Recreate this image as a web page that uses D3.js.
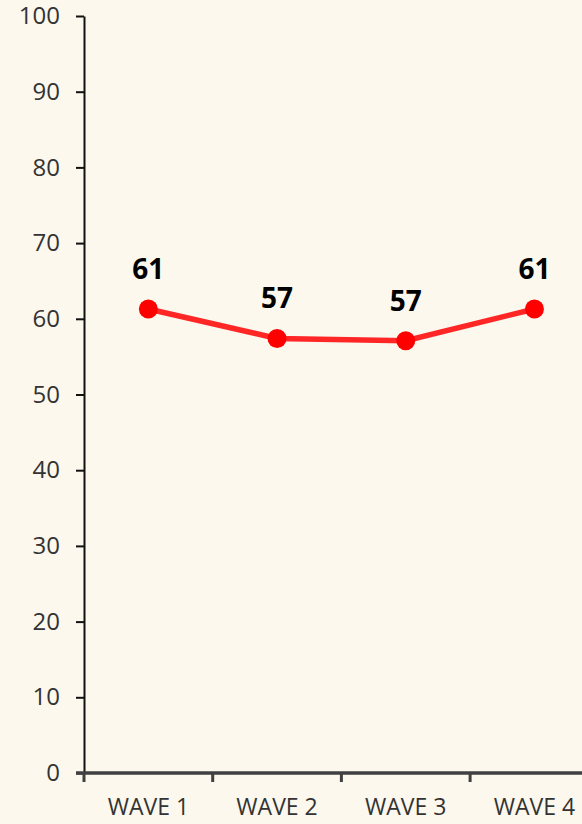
<!DOCTYPE html>
<html>
<head>
<meta charset="utf-8">
<script src="https://cdn.jsdelivr.net/npm/d3@7"></script>
<style>
  html, body { margin: 0; padding: 0; background: #fcf8ee; }
  svg { display: block; }
</style>
</head>
<body>
<div id="chart"></div>
<script>
// data
var waves = ["WAVE 1", "WAVE 2", "WAVE 3", "WAVE 4"];
var scores = [61.3, 57.4, 57.1, 61.3];
var yTicks = [0, 10, 20, 30, 40, 50, 60, 70, 80, 90, 100];

var W = 582, H = 824;
var plotLeft = 84, plotTop = 16, plotBottom = 773, bandW = 128.7;

var svg = d3.select("#chart")
    .append("svg")
    .attr("width", W)
    .attr("height", H);

svg.append("rect").attr("width", W).attr("height", H).attr("fill", "#fcf8ee");

var x = d3.scaleBand().domain(waves).range([plotLeft, plotLeft + bandW * waves.length]);
var y = d3.scaleLinear().domain([0, 100]).range([plotBottom, plotTop]);

// y axis
var yAxis = svg.append("g")
    .attr("transform", "translate(" + plotLeft + ",0)")
    .call(d3.axisLeft(y).tickValues(yTicks).tickSize(8).tickPadding(16).tickSizeOuter(0));
yAxis.select(".domain").attr("stroke", "#111").attr("stroke-width", 2);
yAxis.selectAll(".tick line").attr("stroke", "#111").attr("stroke-width", 2);
yAxis.selectAll("text")
    .style("font-family", "'Open Sans', sans-serif")
    .style("font-size", "24px")
    .attr("fill", "#333");

// x axis
var xAxis = svg.append("g")
    .attr("transform", "translate(0," + plotBottom + ")")
    .call(d3.axisBottom(x).tickSize(0).tickPadding(26));
xAxis.select(".domain").remove();
xAxis.selectAll("text")
    .style("font-family", "'Open Sans', sans-serif")
    .style("font-size", "23px")
    .attr("fill", "#333");

svg.append("line")
    .attr("x1", plotLeft - 8).attr("x2", W)
    .attr("y1", plotBottom).attr("y2", plotBottom)
    .attr("stroke", "#404040").attr("stroke-width", 3.5);

svg.selectAll(".xtick")
    .data(waves)
    .join("line")
    .attr("class", "xtick")
    .attr("x1", function (d) { return x(d); })
    .attr("x2", function (d) { return x(d); })
    .attr("y1", plotBottom)
    .attr("y2", plotBottom + 9)
    .attr("stroke", "#404040")
    .attr("stroke-width", 3);

var cx = function (d, i) { return x(waves[i]) + x.bandwidth() / 2; };

// line
svg.append("path")
    .datum(scores)
    .attr("fill", "none")
    .attr("stroke", "#ff2626")
    .attr("stroke-width", 5.5)
    .attr("d", d3.line()
        .x(function (d, i) { return cx(d, i); })
        .y(function (d) { return y(d); }));

svg.selectAll(".dot")
    .data(scores)
    .join("circle")
    .attr("class", "dot")
    .attr("cx", cx)
    .attr("cy", function (d) { return y(d); })
    .attr("r", 9.5)
    .attr("fill", "#ff0000");

svg.selectAll(".lbl")
    .data(scores)
    .join("text")
    .attr("class", "lbl")
    .attr("x", cx)
    .attr("y", function (d) { return y(d) - 30; })
    .attr("text-anchor", "middle")
    .style("font-family", "'Open Sans', sans-serif")
    .style("font-weight", "bold")
    .style("font-size", "28px")
    .attr("fill", "#000")
    .text(function (d) { return Math.round(d); });
</script>
</body>
</html>
